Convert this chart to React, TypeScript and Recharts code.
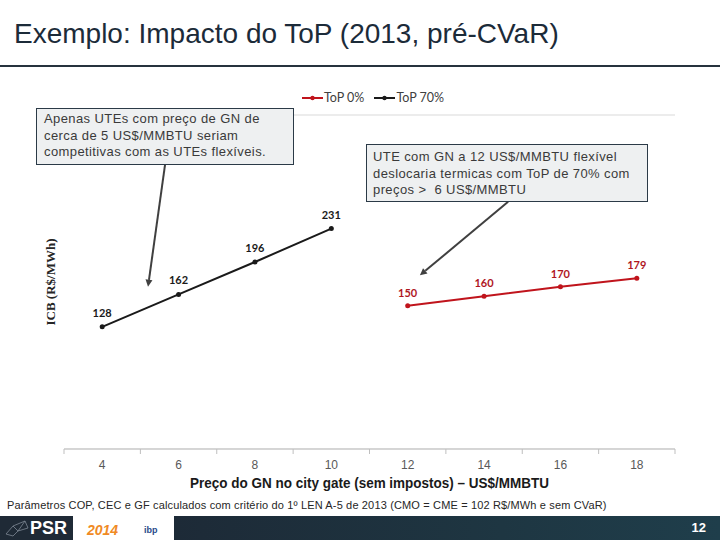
import React from 'react';
import { LineChart, Line, XAxis, YAxis, CartesianGrid, LabelList, ReferenceLine } from 'recharts';

// Preço do GN (US$/MMBTU) e ICB (R$/MWh) por cenário de ToP
const gasPrice = [4, 6, 8, 10, 12, 14, 16, 18];
const top0 = [null, null, null, null, 150, 160, 170, 179];
const top70 = [128, 162, 196, 231, null, null, null, null];
const yTicks = [0, 50, 100, 150, 200, 250, 300, 350];
const xTicks = [3, 4, 5, 6, 7, 8, 9, 10, 11, 12, 13, 14, 15, 16, 17, 18, 19];

// setas das caixas de texto (coordenadas em unidades do gráfico)
const arrows = [
  { from: { x: 5.65, y: 299 }, to: { x: 5.2, y: 170 } },
  { from: { x: 14.63, y: 259 }, to: { x: 12.32, y: 182 } },
];

const data = gasPrice.map((x, i) => ({ x, top0: top0[i], top70: top70[i] }));

const RED = '#c0141c';
const BLACK = '#1a1a1a';
const GRID = '#d9d9d9';

const XTick = (props: any) => {
  const { x, y, payload } = props;
  const v = payload.value;
  if (v % 2 === 1) {
    return <line x1={x} x2={x} y1={y} y2={y + 5} stroke="#bfbfbf" strokeWidth={1} />;
  }
  return (
    <text x={x} y={y + 20} textAnchor="middle" fontSize={12} fill="#595959" fontFamily="'Liberation Sans', Arial">
      {v}
    </text>
  );
};

const Arrow = (props: any) => {
  const { x1, y1, x2, y2 } = props;
  const ang = Math.atan2(y2 - y1, x2 - x1);
  const len = 7;
  const w = 3.5;
  const bx = x2 - len * Math.cos(ang);
  const by = y2 - len * Math.sin(ang);
  const px = -Math.sin(ang) * w;
  const py = Math.cos(ang) * w;
  return (
    <g>
      <line x1={x1} y1={y1} x2={bx} y2={by} stroke="#404040" strokeWidth={2} />
      <polygon points={`${x2},${y2} ${bx + px},${by + py} ${bx - px},${by - py}`} fill="#404040" />
    </g>
  );
};

const LegendItem = ({ color, label }: { color: string; label: string }) => (
  <div style={{ display: 'flex', alignItems: 'center', marginRight: 10 }}>
    <svg width={21} height={10}>
      <line x1={0} x2={21} y1={5} y2={5} stroke={color} strokeWidth={2} />
      <circle cx={10.5} cy={5} r={2.2} fill={color} />
    </svg>
    <span style={{ marginLeft: 1 }}>{label}</span>
  </div>
);

const boxStyle: React.CSSProperties = {
  position: 'absolute',
  background: '#eef0f1',
  border: '1px solid #2b3a47',
  boxSizing: 'border-box',
  fontFamily: "'Liberation Sans', Arial, sans-serif",
  fontSize: 13,
  letterSpacing: 0.4,
  lineHeight: '16.5px',
  color: '#3a3a3a',
  whiteSpace: 'nowrap',
};

export default function App() {
  return (
    <div style={{ position: 'absolute', left: 0, top: 0, width: 720, height: 540, background: '#fff', overflow: 'hidden' }}>
      <div
        style={{
          position: 'absolute',
          left: 14,
          top: 18,
          fontFamily: "'Liberation Sans', Arial, sans-serif",
          fontSize: 28,
          color: '#1c2b39',
          whiteSpace: 'nowrap',
        }}
      >
        Exemplo: Impacto do ToP (2013, pré-CVaR)
      </div>
      <div style={{ position: 'absolute', left: 0, top: 65, width: 720, height: 2, background: '#26333d' }} />

      <LineChart
        width={720}
        height={540}
        data={data}
        margin={{ top: 115, right: 45, bottom: 61, left: 30 }}
        style={{ position: 'absolute', left: 0, top: 0 }}
      >
        <CartesianGrid vertical={false} stroke={GRID} />
        <XAxis
          dataKey="x"
          type="number"
          domain={[3, 19]}
          ticks={xTicks}
          interval={0}
          tickSize={0}
          tickMargin={0}
          tickLine={false}
          axisLine={{ stroke: '#bfbfbf' }}
          height={30}
          tick={<XTick />}
          label={{
            content: (p: any) => {
              const vb = p.viewBox;
              return (
                <text
                  x={vb.x + vb.width / 2}
                  y={vb.y + 39}
                  textAnchor="middle"
                  fontSize={15}
                  fontWeight="bold"
                  fill="#1a1a1a"
                  fontFamily="'Liberation Sans', Arial"
                  textLength={359}
                  lengthAdjust="spacingAndGlyphs"
                >
                  Preço do GN no city gate (sem impostos) – US$/MMBTU
                </text>
              );
            },
          }}
        />
        <YAxis
          domain={[0, 350]}
          ticks={yTicks}
          width={34}
          tick={false}
          tickLine={false}
          axisLine={false}
          label={{
            content: (p: any) => {
              const vb = p.viewBox;
              const cx = vb.x + 20;
              const cy = vb.y + vb.height / 2;
              return (
                <text
                  x={cx}
                  y={cy}
                  transform={`rotate(-90 ${cx} ${cy})`}
                  textAnchor="middle"
                  dominantBaseline="central"
                  fontSize={13}
                  fontWeight="bold"
                  fill="#262626"
                  fontFamily="'Liberation Serif', serif"
                >
                  ICB (R$/MWh)
                </text>
              );
            },
          }}
        />
        <Line
          dataKey="top70"
          name="ToP 70%"
          type="linear"
          stroke={BLACK}
          strokeWidth={2}
          dot={{ r: 2.5, fill: BLACK, stroke: BLACK, strokeWidth: 0 }}
          isAnimationActive={false}
        >
          <LabelList
            dataKey="top70"
            position="top"
            offset={10}
            fontSize={11}
            fontWeight="bold"
            fill="#1a1a1a"
            fontFamily="Lato, 'Open Sans', sans-serif"
          />
        </Line>
        <Line
          dataKey="top0"
          name="ToP 0%"
          type="linear"
          stroke={RED}
          strokeWidth={2}
          dot={{ r: 2.5, fill: RED, stroke: RED, strokeWidth: 0 }}
          isAnimationActive={false}
        >
          <LabelList
            dataKey="top0"
            position="top"
            offset={9}
            fontSize={11}
            fontWeight="bold"
            fill="#b0171f"
            fontFamily="Lato, 'Open Sans', sans-serif"
          />
        </Line>
        {arrows.map((a, i) => (
          <ReferenceLine key={i} segment={[a.from, a.to]} ifOverflow="visible" shape={<Arrow />} />
        ))}
      </LineChart>

      {/* legenda */}
      <div
        style={{
          position: 'absolute',
          left: 302,
          top: 90,
          display: 'flex',
          fontFamily: "Lato, 'Open Sans', sans-serif",
          fontSize: 12.5,
          color: '#404040',
          lineHeight: '16px',
        }}
      >
        <LegendItem color={RED} label="ToP 0%" />
        <LegendItem color={BLACK} label="ToP 70%" />
      </div>

      {/* caixas de texto */}
      <div style={{ ...boxStyle, left: 36, top: 108, width: 258, height: 57, padding: '2px 0 0 7px' }}>
        <div>Apenas UTEs com preço de GN de</div>
        <div>cerca de 5 US$/MMBTU seriam</div>
        <div>competitivas com as UTEs flexíveis.</div>
      </div>
      <div style={{ ...boxStyle, left: 366, top: 144, width: 282, height: 58, padding: '4px 0 0 6px' }}>
        <div>UTE com GN a 12 US$/MMBTU flexível</div>
        <div>deslocaria termicas com ToP de 70% com</div>
        <div>preços &gt;&nbsp; 6 US$/MMBTU</div>
      </div>

      {/* nota */}
      <div
        style={{
          position: 'absolute',
          left: 7,
          top: 498,
          fontFamily: "'Liberation Sans', Arial, sans-serif",
          fontSize: 11,
          letterSpacing: 0.15,
          color: '#262626',
          whiteSpace: 'nowrap',
          lineHeight: '14px',
        }}
      >
        Parâmetros COP, CEC e GF calculados com critério do 1º LEN A-5 de 2013 (CMO = CME = 102 R$/MWh e sem CVaR)
      </div>

      {/* rodapé */}
      <div style={{ position: 'absolute', left: 0, top: 516, width: 73, height: 24, background: '#1f2a36' }}>
        <svg width={26} height={24} style={{ position: 'absolute', left: 4, top: 0 }}>
          <g stroke="#7d8894" strokeWidth={0.8} fill="none">
            <path d="M2 18 L9 10 L14 15 L21 5 L24 12 L14 15 L9 20 Z" />
            <path d="M9 10 L21 5" />
          </g>
        </svg>
        <span
          style={{
            position: 'absolute',
            left: 30,
            top: 2,
            color: '#fff',
            fontFamily: "'Liberation Sans', Arial, sans-serif",
            fontWeight: 'bold',
            fontSize: 18,
            lineHeight: '20px',
          }}
        >
          PSR
        </span>
      </div>
      <div style={{ position: 'absolute', left: 73, top: 516, width: 101, height: 24, background: '#fff' }}>
        <span
          style={{
            position: 'absolute',
            left: 14,
            top: 6,
            color: '#f08a24',
            fontFamily: "'Liberation Sans', Arial, sans-serif",
            fontWeight: 'bold',
            fontStyle: 'italic',
            fontSize: 14,
            lineHeight: '16px',
          }}
        >
          2014
        </span>
        <span
          style={{
            position: 'absolute',
            left: 71,
            top: 8,
            color: '#2a4a8a',
            fontFamily: "'Liberation Sans', Arial, sans-serif",
            fontWeight: 'bold',
            fontSize: 9,
            lineHeight: '12px',
          }}
        >
          ibp
        </span>
      </div>
      <div
        style={{
          position: 'absolute',
          left: 174,
          top: 516,
          width: 546,
          height: 24,
          background: 'linear-gradient(90deg, #1d2a37 0%, #1e3642 60%, #1f3e4b 100%)',
        }}
      >
        <span
          style={{
            position: 'absolute',
            right: 14,
            top: 4,
            color: '#fff',
            fontFamily: "'Liberation Sans', Arial, sans-serif",
            fontWeight: 'bold',
            fontSize: 13,
            lineHeight: '16px',
          }}
        >
          12
        </span>
      </div>
    </div>
  );
}
